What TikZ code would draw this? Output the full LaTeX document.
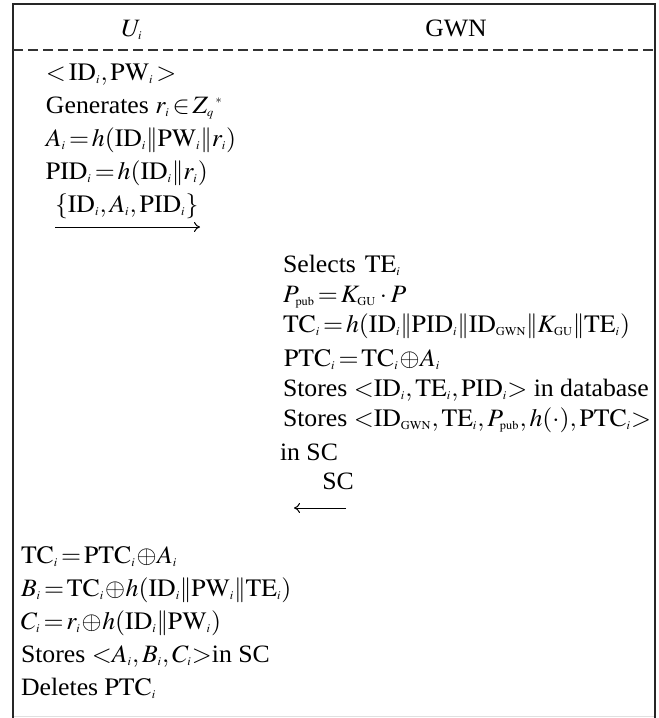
\documentclass[tikz,border=0pt]{standalone}
\usepackage{mathptmx}
\usepackage{fontspec}
\setmainfont{Liberation Serif}
\DeclareMathSizes{12.5}{12.5}{6}{4.5}
\usetikzlibrary{arrows.meta}
\newcommand{\sx}[1]{\scalebox{1.03}[1]{#1}}
\newcommand{\dbar}{\mathord{|\mkern-2.2mu|}}
\begin{document}
\begin{tikzpicture}[x=0.5pt,y=-0.5pt,
  every node/.style={font=\fontsize{12.5}{14}\selectfont, inner sep=0pt, outer sep=0pt},
  txt/.style={anchor=base west},
  frame/.style={line width=1.1pt, draw=black!85},
  sep/.style={line width=0.6pt, draw=black!80, dash pattern=on 5pt off 2.5pt},
  msg/.style={line width=0.5pt, -{To[length=3pt,width=5pt]}}]
\useasboundingbox (0,0) rectangle (659,718);
\fill[white] (0,0) rectangle (659,718);
% frame
\coordinate (tl) at (13,718);
\coordinate (tlt) at (13,4);
\coordinate (trt) at (655,4);
\coordinate (tr) at (655,718);
\coordinate (bl) at (13,716.5);
\coordinate (br) at (655,716.5);
\draw[line width=0.4pt, draw=black!12] (bl) -- (br);
\draw[frame] (tl) -- (tlt) -- (trt) -- (tr);
\coordinate (dl) at (13,50);
\coordinate (dr) at (655,50);
\draw[sep] (dl) -- (dr);
% header
\node[anchor=base] (hu) at (132,36) {\sx{$U_i$}};
\node[anchor=base] (hg) at (456,36) {\sx{GWN}};
% user block
\node[txt] (u1) at (46,80) {\sx{${<}\,\mathrm{ID}_i,\mathrm{PW}_i\,{>}$}};
\node[txt] (u2) at (46,113) {\sx{Generates\hspace{0.25em}$r_i\!\in\! Z_q{}^{\,*}$}};
\node[txt] (u3) at (46,146) {\sx{$A_i\!=\!h(\mathrm{ID}_i\dbar\mathrm{PW}_i\dbar r_i)$}};
\node[txt] (u4) at (46,179) {\sx{$\mathrm{PID}_i\!=\!h(\mathrm{ID}_i\dbar r_i)$}};
\node[txt] (u5) at (55,212) {\sx{$\{\mathrm{ID}_i,A_i,\mathrm{PID}_i\}$}};
\coordinate (m1s) at (55,227);
\coordinate (m1e) at (200,227);
\draw[msg] (m1s) -- (m1e);
% GWN block
\node[txt] (g1) at (283,272) {\sx{Selects\hspace{0.35em}$\mathrm{TE}_i$}};
\node[txt] (g2) at (283,302) {\sx{$P_{\mathrm{pub}}\!=\!K_{\mathrm{GU}}\cdot P$}};
\node[txt] (g3) at (283,332) {\sx{$\mathrm{TC}_i\!=\!h(\mathrm{ID}_i\dbar\mathrm{PID}_i\dbar\mathrm{ID}_{\mathrm{GWN}}\dbar K_{\mathrm{GU}}\dbar\mathrm{TE}_i)$}};
\node[txt] (g4) at (284,366) {\sx{$\mathrm{PTC}_i\!=\!\mathrm{TC}_i\!\oplus\! A_i$}};
\node[txt] (g5) at (283,396) {\sx{Stores\hspace{0.25em}${<}\mathrm{ID}_i,\mathrm{TE}_i,\mathrm{PID}_i{>}$\hspace{0.25em}in database}};
\node[txt] (g6) at (283,426) {\sx{Stores\hspace{0.25em}${<}\mathrm{ID}_{\mathrm{GWN}},\mathrm{TE}_i,P_{\mathrm{pub}},h(\cdot),\mathrm{PTC}_i{>}$}};
\node[txt] (g7) at (280,460) {\sx{in SC}};
\node[anchor=base] (g8) at (338,489) {\sx{SC}};
\coordinate (m2s) at (346,508);
\coordinate (m2e) at (294,508);
\draw[msg] (m2s) -- (m2e);
% final user block
\node[txt] (f1) at (21,563) {\sx{$\mathrm{TC}_i\!=\!\mathrm{PTC}_i\!\oplus\! A_i$}};
\node[txt] (f2) at (21,596) {\sx{$B_i\!=\!\mathrm{TC}_i\!\oplus\! h(\mathrm{ID}_i\dbar\mathrm{PW}_i\dbar\mathrm{TE}_i)$}};
\node[txt] (f3) at (21,629) {\sx{$C_i\!=\!r_i\!\oplus\! h(\mathrm{ID}_i\dbar\mathrm{PW}_i)$}};
\node[txt] (f4) at (21,662) {\sx{Stores\hspace{0.25em}${<}A_i,B_i,C_i{>}$in SC}};
\node[txt] (f5) at (21,695) {\sx{Deletes\hspace{0.25em}$\mathrm{PTC}_i$}};
\end{tikzpicture}
\end{document}
